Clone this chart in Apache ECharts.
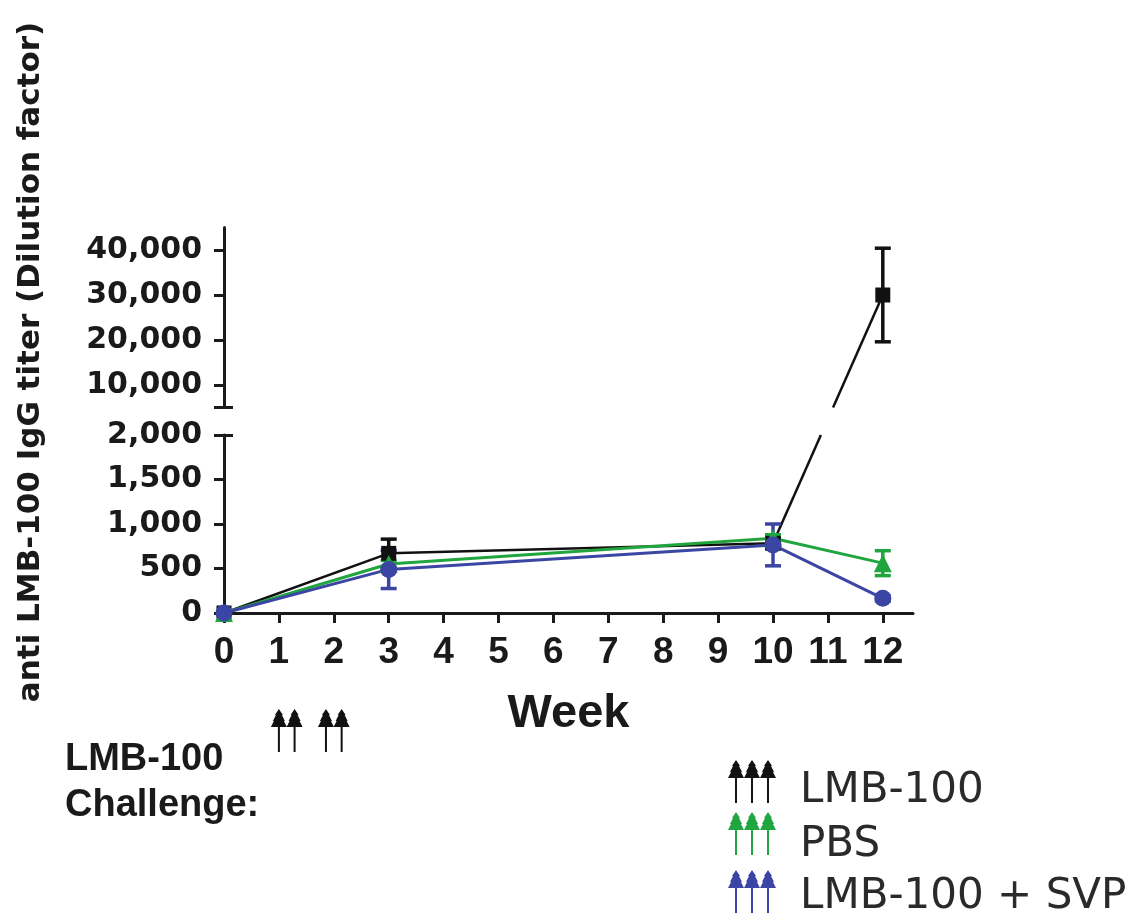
<!DOCTYPE html>
<html>
<head>
<meta charset="utf-8">
<script src="https://cdn.jsdelivr.net/npm/echarts@6/dist/echarts.min.js"></script>
<style>
  html, body { margin: 0; padding: 0; background: #ffffff; }
  #chart { width: 1145px; height: 917px; }
</style>
</head>
<body>
<div id="chart"></div>
<script>
// Sampling weeks and group means / SD of anti LMB-100 IgG titer
const weeks = [0, 3, 10, 12];
const lmb100Mean = [0, 670, 783, 30000];
const lmb100Sd = [0, 160, 60, 10400];
const pbsMean = [0, 550, 839, 560];
const pbsSd = [0, 40, 40, 140];
const svpMean = [0, 490, 765, 165];
const svpSd = [0, 215, 235, 30];

// Axis ticks
const weekTicks = [0, 1, 2, 3, 4, 5, 6, 7, 8, 9, 10, 11, 12];
const lowerTicks = [0, 500, 1000, 1500, 2000];
const upperTicks = [10000, 20000, 30000, 40000];

// LMB-100 challenge injections (study day)
const challengeDays = [7, 9, 13, 15];

// Group names
const groupNames = ['LMB-100', 'PBS', 'LMB-100 + SVP'];

// Broken y axis: lower and upper segments
const LOW = [0, 2000];
const HIGH = [5000, 45000];
const X_MAX = 12.55;

const INK = '#1a1a1a';
const groups = [
  { name: groupNames[0], color: '#111111', symbol: 'rect', size: 15, width: 2.5, mean: lmb100Mean, sd: lmb100Sd },
  { name: groupNames[1], color: '#21a63f', symbol: 'triangle', size: 18, width: 3, mean: pbsMean, sd: pbsSd },
  { name: groupNames[2], color: '#3b45a4', symbol: 'circle', size: 17, width: 3, mean: svpMean, sd: svpSd }
];

const fmt = v => Number(v).toLocaleString('en-US');
const panelOf = v => (v <= LOW[1] ? 'low' : 'high');

const chart = echarts.init(document.getElementById('chart'), null, { renderer: 'canvas' });

const axisLineStyle = { color: INK, width: 3 };
const yLabelStyle = { fontFamily: 'DejaVu Sans', fontWeight: 'bold', fontSize: 30, color: INK, margin: 22 };

function errorRenderer(color) {
  return function (params, api) {
    const x = api.value(0), m = api.value(1), s = api.value(2);
    if (!s) return null;
    const top = api.coord([x, m + s]);
    const bot = api.coord([x, m - s]);
    const half = 8;
    const style = { stroke: color, lineWidth: 3.5 };
    return {
      type: 'group',
      children: [
        { type: 'line', shape: { x1: top[0], y1: top[1], x2: bot[0], y2: bot[1] }, style },
        { type: 'line', shape: { x1: top[0] - half, y1: top[1], x2: top[0] + half, y2: top[1] }, style },
        { type: 'line', shape: { x1: bot[0] - half, y1: bot[1], x2: bot[0] + half, y2: bot[1] }, style }
      ]
    };
  };
}

// axes per panel: upper grid 0 uses xAxis 0 / yAxis 0, lower grid 1 uses xAxis 1 / yAxis 2
const panelAxes = { high: { x: 0, y: 0 }, low: { x: 1, y: 2 } };

const series = [];
const lineIndex = {};
groups.forEach((g, gi) => {
  ['low', 'high'].forEach(panel => {
    const pts = [], errs = [];
    weeks.forEach((w, i) => {
      if (panelOf(g.mean[i]) === panel) {
        pts.push([w, g.mean[i]]);
        errs.push([w, g.mean[i], g.sd[i]]);
      }
    });
    if (!pts.length) return;
    const ax = panelAxes[panel];
    series.push({
      type: 'custom',
      name: g.name,
      xAxisIndex: ax.x,
      yAxisIndex: ax.y,
      data: errs,
      encode: { x: 0, y: 1 },
      renderItem: errorRenderer(g.color),
      clip: false,
      z: 2
    });
    lineIndex[gi + panel] = series.length;
    series.push({
      type: 'line',
      name: g.name,
      xAxisIndex: ax.x,
      yAxisIndex: ax.y,
      data: pts,
      symbol: g.symbol,
      symbolSize: g.size,
      showSymbol: true,
      clip: false,
      lineStyle: { color: g.color, width: g.width },
      itemStyle: { color: g.color },
      z: 2
    });
  });
});

const option = {
  animation: false,
  backgroundColor: '#ffffff',
  grid: [
    { left: 224, top: 227.5, width: 689, height: 180, outerBoundsMode: 'none' },
    { left: 224, top: 435, width: 689, height: 178, outerBoundsMode: 'none' }
  ],
  xAxis: [
    { type: 'value', gridIndex: 0, min: 0, max: X_MAX, show: false },
    {
      type: 'value', gridIndex: 1, min: 0, max: X_MAX,
      axisLine: { show: true, onZero: false, lineStyle: axisLineStyle },
      axisTick: { show: true, inside: false, length: 10, customValues: weekTicks, lineStyle: { color: INK, width: 3 } },
      axisLabel: {
        customValues: weekTicks, margin: 21,
        fontFamily: 'Liberation Sans, Arial, sans-serif', fontWeight: 'bold', fontSize: 37, color: INK
      },
      splitLine: { show: false },
      name: 'Week', nameLocation: 'middle', nameGap: 78,
      nameTextStyle: { fontFamily: 'Liberation Sans, Arial, sans-serif', fontWeight: 'bold', fontSize: 47, color: INK }
    }
  ],
  yAxis: [
    {
      type: 'value', gridIndex: 0, min: HIGH[0], max: HIGH[1],
      axisLine: { show: true, onZero: false, lineStyle: axisLineStyle },
      axisTick: { show: true, length: 10, customValues: [HIGH[0]].concat(upperTicks), lineStyle: { color: INK, width: 3 } },
      axisLabel: Object.assign({ customValues: upperTicks, formatter: fmt }, yLabelStyle),
      splitLine: { show: false }
    },
    {
      // inner half of the cap that closes the upper segment
      type: 'value', gridIndex: 0, min: HIGH[0], max: HIGH[1], position: 'left',
      axisLine: { show: false },
      axisTick: { show: true, inside: true, length: 9, customValues: [HIGH[0]], lineStyle: { color: INK, width: 3 } },
      axisLabel: { show: false },
      splitLine: { show: false }
    },
    {
      type: 'value', gridIndex: 1, min: LOW[0], max: LOW[1],
      axisLine: { show: true, onZero: false, lineStyle: axisLineStyle },
      axisTick: { show: true, length: 10, customValues: lowerTicks, lineStyle: { color: INK, width: 3 } },
      axisLabel: Object.assign({ customValues: lowerTicks, formatter: fmt }, yLabelStyle),
      splitLine: { show: false }
    },
    {
      // inner half of the cap that closes the lower segment
      type: 'value', gridIndex: 1, min: LOW[0], max: LOW[1], position: 'left',
      axisLine: { show: false },
      axisTick: { show: true, inside: true, length: 9, customValues: [LOW[1]], lineStyle: { color: INK, width: 3 } },
      axisLabel: { show: false },
      splitLine: { show: false }
    }
  ],
  series: series
};

chart.setOption(option);

// ---- overlay: segments across the axis break, challenge arrows, legend, titles ----
const graphics = [];

const lowRef = lineIndex['0low'];
const highRef = lineIndex['0high'];
const yLowTop = chart.convertToPixel({ seriesIndex: lowRef }, [0, LOW[1]])[1];
const yHighBottom = chart.convertToPixel({ seriesIndex: highRef }, [0, HIGH[0]])[1];

groups.forEach((g, gi) => {
  for (let i = 0; i + 1 < weeks.length; i++) {
    const pa = panelOf(g.mean[i]), pb = panelOf(g.mean[i + 1]);
    if (pa === pb) continue;
    const a = chart.convertToPixel({ seriesIndex: lineIndex[gi + pa] }, [weeks[i], g.mean[i]]);
    const b = chart.convertToPixel({ seriesIndex: lineIndex[gi + pb] }, [weeks[i + 1], g.mean[i + 1]]);
    const lo = pa === 'low' ? a : b;
    const hi = pa === 'low' ? b : a;
    const xAt = y => lo[0] + (hi[0] - lo[0]) * (y - lo[1]) / (hi[1] - lo[1]);
    const st = { stroke: g.color, lineWidth: g.width };
    graphics.push({ type: 'line', z: 1, shape: { x1: lo[0], y1: lo[1], x2: xAt(yLowTop), y2: yLowTop }, style: st });
    graphics.push({ type: 'line', z: 1, shape: { x1: xAt(yHighBottom), y1: yHighBottom, x2: hi[0], y2: hi[1] }, style: st });
  }
});

function arrow(cx, top, color) {
  const h = 18;
  return [
    {
      type: 'polygon', z: 5,
      shape: {
        points: [
          [cx, top], [cx + 4, top + 6], [cx + 3, top + 6], [cx + 6, top + 12], [cx + 5, top + 12],
          [cx + 8, top + h], [cx - 8, top + h], [cx - 5, top + 12], [cx - 6, top + 12],
          [cx - 3, top + 6], [cx - 4, top + 6]
        ]
      },
      style: { fill: color }
    },
    { type: 'rect', z: 5, shape: { x: cx - 1, y: top + h - 1, width: 2, height: 26 }, style: { fill: color } }
  ];
}

// challenge arrows under the week axis
challengeDays.forEach(d => {
  const px = chart.convertToPixel({ seriesIndex: lowRef }, [d / 7, 0])[0];
  arrow(px, 709, '#111111').forEach(e => graphics.push(e));
});

graphics.push({
  type: 'text', left: 65, top: 741, z: 5,
  style: { text: 'LMB-100', font: 'bold 38px "Liberation Sans", Arial, sans-serif', fill: INK }
});
graphics.push({
  type: 'text', left: 65, top: 787, z: 5,
  style: { text: 'Challenge:', font: 'bold 38px "Liberation Sans", Arial, sans-serif', fill: INK }
});

// legend: three arrows per group followed by the group name
const legendTops = [760, 812, 870];
const legendTextY = [791, 845, 897];
groups.forEach((g, gi) => {
  [736, 752, 768].forEach(x => arrow(x, legendTops[gi], g.color).forEach(e => graphics.push(e)));
  graphics.push({
    type: 'text', x: 800, y: legendTextY[gi], z: 5,
    style: {
      text: g.name, font: '42px "DejaVu Sans", sans-serif', fill: '#2a2a2a',
      textAlign: 'left', textVerticalAlign: 'middle'
    }
  });
});

// y-axis title spanning both segments
graphics.push({
  type: 'text', x: 31, y: 362, rotation: Math.PI / 2, z: 5,
  style: {
    text: 'anti LMB-100 IgG titer (Dilution factor)',
    font: 'bold 31px "DejaVu Sans", sans-serif', fill: INK,
    textAlign: 'center', textVerticalAlign: 'middle'
  }
});

chart.setOption({ graphic: { elements: graphics } });
</script>
</body>
</html>
